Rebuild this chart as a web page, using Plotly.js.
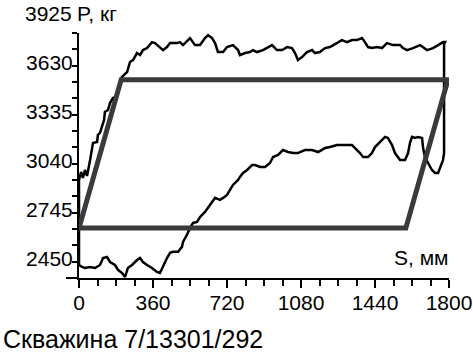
<!DOCTYPE html>
<html>
<head>
<meta charset="utf-8">
<script src="https://cdn.plot.ly/plotly-3.0.1.min.js"></script>
<style>html,body{margin:0;padding:0;background:#fff;}#chart{width:473px;height:355px;}</style>
</head>
<body>
<div id="chart"></div>
<script>
// Measured dynamometer card (S, mm ; P, kg)
const cardS = [0,0,10,19,29,39,54,63,68,88,92,102,112,122,126,141,151,165,175,185,190,199,209,234,248,263,282,297,311,331,355,370,394,409,428,443,477,491,506,540,564,589,613,628,647,662,676,701,720,749,774,783,808,832,846,866,895,919,939,963,988,1012,1036,1051,1065,1085,1109,1134,1148,1172,1197,1221,1255,1279,1304,1328,1352,1377,1391,1406,1425,1450,1474,1498,1528,1562,1576,1596,1625,1659,1693,1722,1747,1771,1781,1776,1776,1771,1747,1732,1717,1698,1683,1674,1669,1649,1635,1620,1610,1601,1586,1562,1537,1523,1503,1489,1474,1455,1440,1425,1406,1382,1367,1343,1328,1294,1255,1221,1197,1163,1134,1099,1065,1041,1017,992,968,944,929,905,881,856,842,818,798,783,774,749,735,720,701,686,662,647,628,613,589,574,555,540,525,506,501,482,457,443,428,409,394,379,355,331,311,297,282,258,238,224,209,190,175,151,136,117,102,78,54,29,15,0];
const cardP = [2430,2942,2990,2954,3002,2966,3062,3122,3164,3170,3213,3225,3261,3303,3351,3363,3405,3435,3441,3465,3495,3532,3562,3592,3652,3664,3706,3694,3724,3736,3772,3766,3742,3724,3742,3766,3766,3772,3754,3796,3754,3754,3796,3814,3796,3766,3712,3712,3742,3754,3724,3694,3706,3712,3724,3712,3724,3742,3754,3724,3724,3742,3736,3706,3664,3682,3712,3724,3706,3712,3736,3742,3766,3784,3772,3784,3784,3796,3772,3742,3736,3742,3736,3766,3754,3754,3736,3724,3736,3754,3724,3736,3754,3772,3772,3760,3104,3062,2984,2984,3002,3044,3080,3134,3195,3201,3195,3201,3164,3104,3062,3062,3104,3152,3195,3201,3183,3164,3140,3104,3080,3080,3104,3134,3152,3152,3152,3140,3134,3110,3122,3122,3104,3104,3110,3122,3092,3080,3044,3020,3020,3032,3032,3002,2984,2960,2942,2912,2882,2852,2834,2822,2834,2810,2779,2749,2719,2689,2683,2653,2611,2569,2539,2509,2509,2503,2472,2418,2382,2388,2412,2430,2448,2472,2460,2430,2412,2358,2382,2400,2430,2448,2478,2472,2430,2412,2418,2412,2418,2430];

// Theoretical card (parallelogram)
const theoS = [0,205,1795,1590,0];
const theoP = [2652,3545,3545,2652,2652];

// Axis ticks
const xTick0 = 0, xStep = 360, xMinorStep = 90;
const yTick0 = 2450, yStep = 295, yMinorStep = 295/3;
const yTopLabel = "3925";
const yAxisName = "P, кг";
const xAxisName = "S, мм";
const chartTitle = "Скважина 7/13301/292";

const FONT = '"Liberation Sans", Arial, sans-serif';
const FS = 21;

const traces = [
  {x: cardS, y: cardP, type: 'scatter', mode: 'lines',
   line: {color: '#000', width: 2.5}, hoverinfo: 'skip'},
  {x: theoS, y: theoP, type: 'scatter', mode: 'lines',
   line: {color: '#3a3a3a', width: 5}, hoverinfo: 'skip'}
];

const layout = {
  width: 473, height: 355,
  margin: {l: 79, r: 24, t: 33, b: 77, pad: 0},
  paper_bgcolor: '#fff', plot_bgcolor: '#fff',
  showlegend: false,
  font: {family: FONT, size: FS, color: '#000'},
  xaxis: {
    range: [0, 1800], tick0: xTick0, dtick: xStep,
    showgrid: false, zeroline: false,
    showline: true, linecolor: '#000', linewidth: 2,
    ticks: 'outside', ticklen: 8, tickwidth: 2, tickcolor: '#000',
    tickfont: {family: FONT, size: FS, color: '#000'},
    ticklabelstandoff: -3,
    minor: {dtick: xMinorStep, tick0: 0, ticks: 'outside', ticklen: 6, tickwidth: 2, tickcolor: '#000', showgrid: false},
    fixedrange: true
  },
  yaxis: {
    range: [2351.6, 3826.75], tick0: yTick0, dtick: yStep,
    showgrid: false, zeroline: false,
    showline: true, linecolor: '#000', linewidth: 2,
    ticks: 'outside', ticklen: 5, tickwidth: 2, tickcolor: '#000',
    tickfont: {family: FONT, size: FS, color: '#000'},
    ticklabelshift: -3,
    ticklabelstandoff: -5,
    minor: {dtick: yMinorStep, tick0: yTick0, ticks: 'outside', ticklen: 5, tickwidth: 2, tickcolor: '#000', showgrid: false},
    fixedrange: true
  },
  shapes: [
    {type: 'line', xref: 'paper', yref: 'paper', x0: -13/370, x1: 0, y0: 0, y1: 0,
     line: {color: '#000', width: 2}}
  ],
  annotations: [
    {text: yTopLabel, xref: 'paper', yref: 'paper', x: -5/370, y: (278-14)/245,
     xanchor: 'right', yanchor: 'middle', showarrow: false, font: {family: FONT, size: FS}},
    {text: yAxisName, xref: 'paper', yref: 'paper', x: -4/370, y: (278-14)/245,
     xanchor: 'left', yanchor: 'middle', showarrow: false, font: {family: FONT, size: FS}},
    {text: xAxisName, xref: 'paper', yref: 'paper', x: 372/370, y: (278-257)/245,
     xanchor: 'right', yanchor: 'middle', showarrow: false, font: {family: FONT, size: FS}},
    {text: chartTitle, xref: 'paper', yref: 'paper', x: -78/370, y: (278-339)/245,
     xanchor: 'left', yanchor: 'middle', showarrow: false, font: {family: FONT, size: 25}}
  ]
};

Plotly.newPlot('chart', traces, layout, {displayModeBar: false, staticPlot: true});
</script>
</body>
</html>
